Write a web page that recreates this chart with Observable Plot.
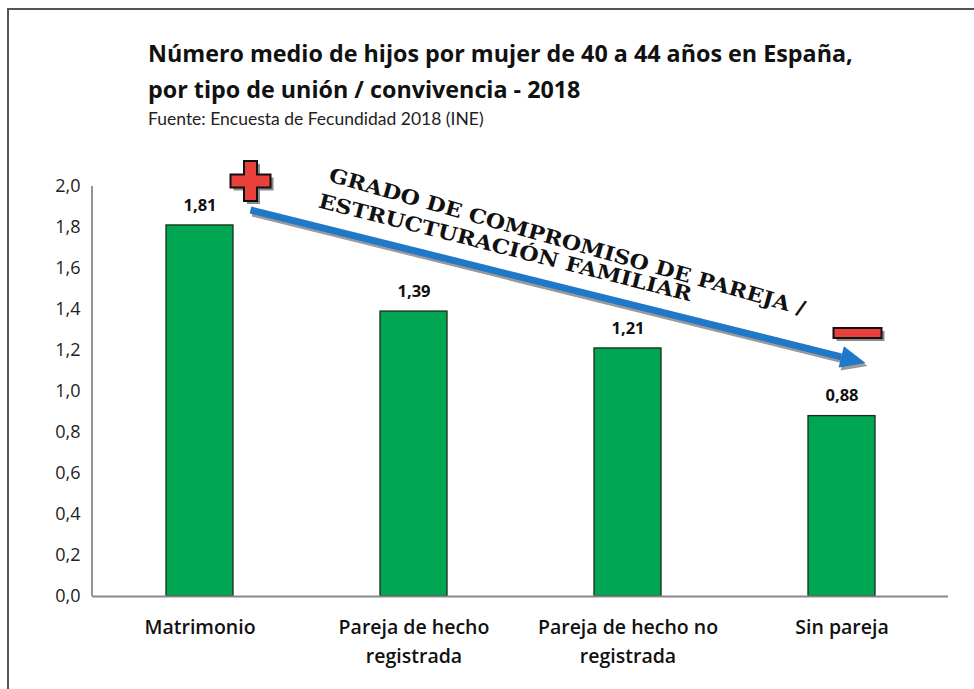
<!DOCTYPE html>
<html><head><meta charset="utf-8">
<script src="https://cdn.jsdelivr.net/npm/d3@7"></script>
<script src="https://cdn.jsdelivr.net/npm/@observablehq/plot@0.6"></script>
<style>
body{margin:0;background:#fff;}
#page{position:relative;width:974px;height:689px;overflow:hidden;font-family:"Open Sans",Lato,sans-serif;background:#fff;}
#frame{position:absolute;left:7px;top:8px;width:990px;height:700px;border-left:2px solid #555;border-top:2px solid #555;}
#title{position:absolute;left:148px;top:35px;font-size:23.3px;font-weight:bold;line-height:36px;color:#111;white-space:nowrap;}
#subtitle{position:absolute;left:148px;top:108px;font-family:Lato,sans-serif;font-size:17.5px;color:#222;white-space:nowrap;}
#chart{position:absolute;left:0;top:150px;}
#chart g[aria-label="x-axis tick label"]{font-weight:600;}
</style></head>
<body><div id="page"><div id="frame"></div>
<div id="title">Número medio de hijos por mujer de 40 a 44 años en España,<br>por tipo de unión / convivencia - 2018</div>
<div id="subtitle">Fuente: Encuesta de Fecundidad 2018 (INE)</div>
<div id="chart"></div></div>
<script>
const categories = ["Matrimonio", "Pareja de hecho registrada", "Pareja de hecho no registrada", "Sin pareja"];
const categoryLabels = ["Matrimonio", "Pareja de hecho\nregistrada", "Pareja de hecho no\nregistrada", "Sin pareja"];
const values = [1.81, 1.39, 1.21, 0.88];
const yTicks = [0, 0.2, 0.4, 0.6, 0.8, 1.0, 1.2, 1.4, 1.6, 1.8, 2.0];
const annotationLine1 = "GRADO DE COMPROMISO DE PAREJA /";
const annotationLine2 = "ESTRUCTURACIÓN FAMILIAR";

const data = categories.map((c, i) => ({category: c, value: values[i]}));
const fmt = (v, d) => v.toFixed(d).replace(".", ",");

const chart = Plot.plot({
  width: 974, height: 526,
  marginLeft: 92, marginRight: 26, marginTop: 36, marginBottom: 80,
  style: {fontFamily: "'Open Sans', sans-serif", fontSize: "18px", color: "#222", background: "transparent", overflow: "visible"},
  x: {domain: categories, paddingInner: 0.687, paddingOuter: 0.3435, label: null},
  y: {domain: [0, 2], label: null},
  marks: [
    Plot.barY(data, {x: "category", y: "value", fill: "#00A651", stroke: "#1b2b1b", strokeWidth: 1.3}),
    Plot.ruleY([0], {stroke: "#888", strokeWidth: 1.8}),
    Plot.axisY({ticks: yTicks, tickSize: 0, tickPadding: 12, tickFormat: d => fmt(d, 1), fontSize: 18, label: null}),
    Plot.axisX({tickSize: 0, tickPadding: 17, tickFormat: c => categoryLabels[categories.indexOf(c)], fontSize: 19.5, lineHeight: 1.48, fill: "#111", label: null}),
    Plot.text(data, {x: "category", y: "value", text: d => fmt(d.value, 2), dy: -20, fontWeight: "bold", fontSize: 16.5, fill: "#111"})
  ]
});
document.getElementById("chart").append(chart);

// annotations positioned through the chart's own scales
const sx = chart.scale("x"), sy = chart.scale("y");
const bw = sx.bandwidth;
const xc = c => sx.apply(c) + bw / 2;
const svg = d3.select(chart);
const g = svg.append("g");

// y axis line
g.append("line")
  .attr("x1", 92).attr("x2", 92)
  .attr("y1", sy.apply(2)).attr("y2", sy.apply(0))
  .attr("stroke", "#888").attr("stroke-width", 1.8);

// arrow
const ax1 = xc(categories[0]) + 51, ay1 = sy.apply(1.883);
const ax2 = xc(categories[3]) + 24, ay2 = sy.apply(1.137);
const ang = Math.atan2(ay2 - ay1, ax2 - ax1);
function drawArrow(dx, dy, color) {
  const hl = 25, hw = 11;
  const bx = ax2 - hl * Math.cos(ang), by = ay2 - hl * Math.sin(ang);
  g.append("line").attr("x1", ax1 + dx).attr("y1", ay1 + dy).attr("x2", bx + dx).attr("y2", by + dy)
    .attr("stroke", color).attr("stroke-width", 7);
  const px = -Math.sin(ang), py = Math.cos(ang);
  g.append("polygon").attr("points", [
    [ax2 + dx, ay2 + dy],
    [bx + px * hw + dx, by + py * hw + dy],
    [bx - px * hw + dx, by - py * hw + dy]
  ].map(p => p.join(",")).join(" ")).attr("fill", color);
}
drawArrow(2, 3, "#9a9a9a");
drawArrow(0, 0, "#1f78c8");

// plus sign
const pcx = xc(categories[0]) + 51, pcy = sy.apply(2.024);
function plus(dx, dy, fill, stroke) {
  const a = 20, t = 6.5;
  const pts = [[-t,-a],[t,-a],[t,-t],[a,-t],[a,t],[t,t],[t,a],[-t,a],[-t,t],[-a,t],[-a,-t],[-t,-t]];
  g.append("polygon").attr("points", pts.map(p => [pcx + p[0] + dx, pcy + p[1] + dy].join(",")).join(" "))
    .attr("fill", fill).attr("stroke", stroke).attr("stroke-width", stroke ? 2 : 0);
}
plus(3, 3, "#8a8a8a", null);
plus(0, 0, "#e8413c", "#111");

// minus sign
const mcx = xc(categories[3]) + 16, mcy = sy.apply(1.283);
g.append("rect").attr("x", mcx - 24 + 3).attr("y", mcy - 5 + 3).attr("width", 48).attr("height", 10).attr("fill", "#8a8a8a");
g.append("rect").attr("x", mcx - 24).attr("y", mcy - 5).attr("width", 48).attr("height", 10)
  .attr("fill", "#e8413c").attr("stroke", "#111").attr("stroke-width", 2);

// rotated annotation text
function rotText(txt, cx, cy, angle, len) {
  g.append("text").attr("transform", `translate(${cx},${cy}) rotate(${angle})`)
    .attr("text-anchor", "middle").attr("dominant-baseline", "middle")
    .attr("font-family", "'DejaVu Serif', serif").attr("font-weight", "bold").attr("font-size", 20)
    .attr("fill", "#111").attr("textLength", len).attr("lengthAdjust", "spacingAndGlyphs")
    .text(txt);
}
rotText(annotationLine1, 567, 243 - 150, 15.8, 494);
rotText(annotationLine2, 505, 249 - 150, 14.2, 384);
</script>
</body></html>
